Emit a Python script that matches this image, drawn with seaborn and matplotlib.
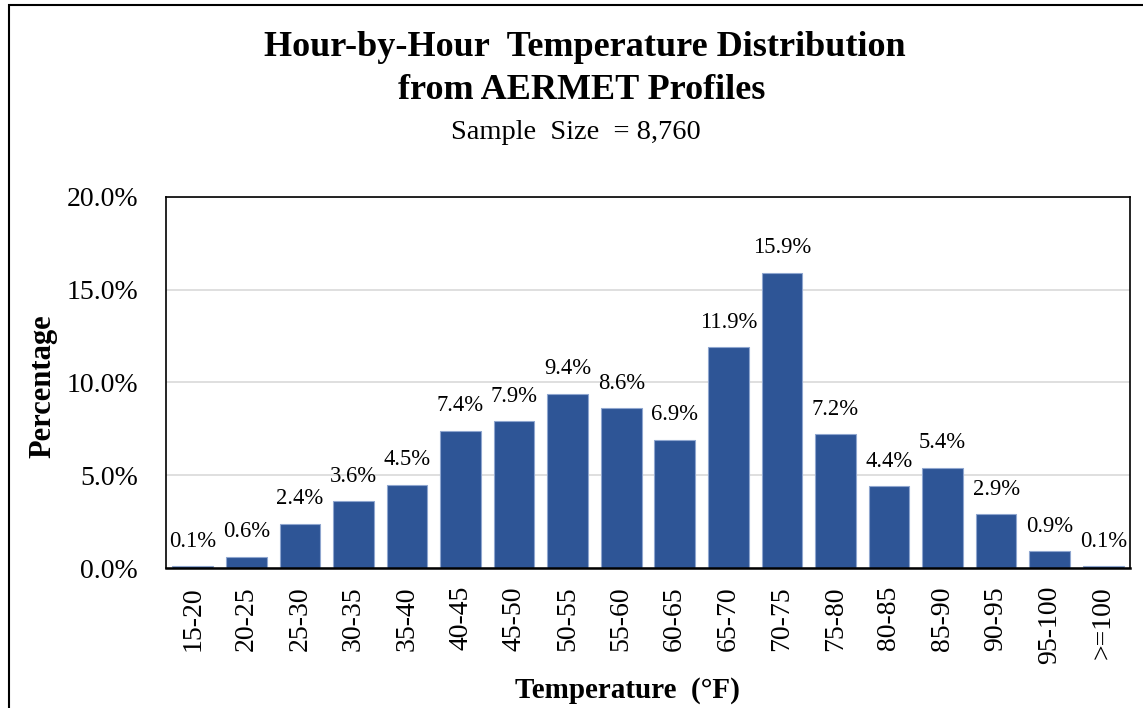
import numpy as np
import matplotlib
matplotlib.use("Agg")
import matplotlib.pyplot as plt
import seaborn as sns
import pandas as pd
from matplotlib.patches import Rectangle

# temperature bins and share of hours (%)
bins = ['15-20', '20-25', '25-30', '30-35', '35-40', '40-45', '45-50', '50-55', '55-60',
        '60-65', '65-70', '70-75', '75-80', '80-85', '85-90', '90-95', '95-100', '>=100']
pct = [0.1, 0.6, 2.4, 3.6, 4.5, 7.4, 7.9, 9.4, 8.6,
       6.9, 11.9, 15.9, 7.2, 4.4, 5.4, 2.9, 0.9, 0.1]
yticks = [0, 5, 10, 15, 20]

df = pd.DataFrame({'bin': bins, 'pct': pct})

sns.set_style("white")
plt.rcParams['font.family'] = ['Liberation Serif', 'DejaVu Serif']
plt.rcParams.update({'text.color': 'black', 'axes.labelcolor': 'black',
                     'xtick.color': 'black', 'ytick.color': 'black'})

fig = plt.figure(figsize=(11.43, 7.08), dpi=100)
ax = fig.add_axes([0.1452, 0.1977, 0.8434, 0.5241])

sns.barplot(data=df, x='bin', y='pct', color='#2E5596', saturation=1, width=0.76,
            edgecolor='#8FA6CF', linewidth=0.8, ax=ax)

# labels above bars
for i, v in enumerate(pct):
    ax.annotate(f'{v:.1f}%', (i, v), xytext=(0, 10.5), textcoords='offset points',
                ha='center', va='bottom', fontsize=16.3)

ax.set_ylim(0, 20)
ax.set_xlim(-0.5, len(bins) - 0.5)
ax.set_yticks(yticks)
ax.set_yticklabels([f'{t:.1f}%' for t in yticks], fontsize=20)
ax.tick_params(axis='y', length=0, pad=20)
ax.yaxis.grid(True, color='#D9D9D9', linewidth=1.2)
ax.set_axisbelow(True)

ax.set_xticks(range(len(bins)))
ax.set_xticklabels(bins, rotation=90, fontsize=20)
ax.set_xticks(np.arange(len(bins) + 1) - 0.5, minor=True)
ax.tick_params(axis='x', which='major', length=0, pad=13)
ax.tick_params(axis='x', which='minor', length=8, width=1.5, direction='out', color='black')

for s in ax.spines.values():
    s.set_color('black')
    s.set_linewidth(1.2)
ax.spines['bottom'].set_linewidth(1.8)

ax.set_xlabel('Temperature  (°F)', fontsize=21, fontweight='bold')
ax.xaxis.set_label_coords(0.479, -0.293)
ax.set_ylabel('Percentage', fontsize=22, fontweight='bold')
ax.yaxis.set_label_coords(-0.113, 0.49)

fig.text(0.512, 0.933, 'Hour-by-Hour  Temperature Distribution', ha='center', va='center',
         fontsize=26, fontweight='bold')
fig.text(0.509, 0.872, 'from AERMET Profiles', ha='center', va='center',
         fontsize=26, fontweight='bold')
fig.text(0.504, 0.813, 'Sample  Size  = 8,760', ha='center', va='center', fontsize=20.5)

# outer chart border (left and top visible)
fig.patches.append(Rectangle((0.0075, -0.1), 1.2, 1.093, transform=fig.transFigure,
                             fill=False, edgecolor='black', linewidth=1.5))

fig.savefig('out.png', dpi=100)
